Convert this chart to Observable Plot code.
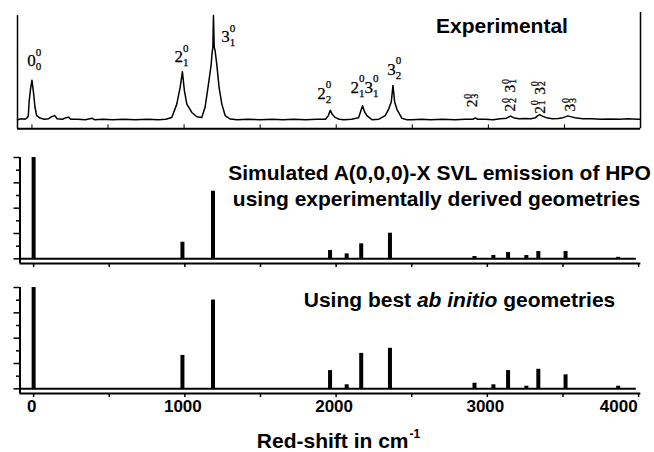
<!DOCTYPE html>
<html><head><meta charset="utf-8">
<script src="https://cdn.jsdelivr.net/npm/d3@7"></script>
<script src="https://cdn.jsdelivr.net/npm/@observablehq/plot@0.6"></script>
<style>html,body{margin:0;padding:0;background:#fff}#chart{width:654px;height:452px}#chart svg{display:block}</style>
</head><body><div id="chart"></div>
<script>
// ---------- data ----------
// Experimental spectrum trace (red-shift in cm-1, relative intensity)
const expShift = [-95,-70,-45,-30,-24,-18,-9,0,11,20,31,53,80,110,130,150,165,200,225,240,255,300,350,395,410,470,530,600,680,760,830,880,
  919,952,974,989,1002,1018,1051,1084,1116,1138,1160,1178,1185,1189,1193,1198,1204,1215,1230,1248,1270,1303,
  1350,1420,1500,1580,1650,1720,1800,1870,1930,1948,1961,1975,1995,2020,2050,2100,2147,2162,2173,2186,2202,2235,2280,
  2322,2344,2362,2373,2384,2399,2410,2432,2465,2500,2560,2620,2700,2780,2850,2900,2914,2930,2980,3030,3080,
  3120,3145,3165,3200,3240,3280,3310,3325,3337,3355,3380,3420,3460,3490,3510,3522,3540,3570,3620,3680,3740,3800,3860,3920,3980,4000];
const expIntensity = [0,0.01,0.005,0.02,0.04,0.18,0.30,0.38,0.25,0.12,0.04,0.016,0.005,0.01,0.03,0.04,0.01,0.005,0.02,0.025,0.005,0.005,0,0.015,0,0.005,0,0.005,0,0.005,0,0.005,
  0.022,0.15,0.31,0.46,0.28,0.15,0.07,0.029,0.022,0.12,0.34,0.53,0.66,0.69,1.0,0.70,0.66,0.53,0.31,0.15,0.04,0.007,
  0,0.005,0,0.005,0,0.005,0,0.005,0.005,0.04,0.09,0.05,0.02,0.005,0,0.005,0.02,0.087,0.135,0.077,0.04,0,0.005,
  0.04,0.10,0.17,0.33,0.17,0.10,0.07,0.013,0,0,0.005,0,0.005,0,0.005,0.005,0.018,0.005,0.005,0,0.01,
  0.015,0.035,0.02,0.01,0.012,0.01,0.02,0.04,0.05,0.035,0.02,0.01,0.012,0.02,0.03,0.037,0.03,0.02,0.01,0.01,0.005,0.008,0.005,0.01,0.005,0.005];

// Peak assignments on the experimental trace
const labelText = ["0^0_0","2^0_1","3^0_1","2^0_2","2^0_1 3^0_1","3^0_2","2^0_3","2^0_2 3^0_1","2^0_1 3^0_2","3^0_3"];
const labelShift = [-31, 937, 1244, 1875, 2093, 2335, 2928, 3178, 3369, 3572];
const labelLevel = [0.514, 0.552, 0.744, 0.20, 0.26, 0.43, 0.12, 0.079, 0.057, 0.079];
const labelVertical = [false,false,false,false,false,false,true,true,true,true];

// Simulated stick spectra
const simShift = [0, 984, 1186, 1960, 2070, 2166, 2356, 2915, 3040, 3137, 3258, 3337, 3517, 3865];
const expGeomIntensity = [1.0, 0.164, 0.667, 0.082, 0.049, 0.148, 0.253, 0.023, 0.033, 0.062, 0.033, 0.072, 0.072, 0.015];
const abInitioIntensity = [1.0, 0.33, 0.876, 0.18, 0.04, 0.35, 0.40, 0.055, 0.04, 0.18, 0.026, 0.193, 0.138, 0.026];

// Axes
const xTicks = [0, 500, 1000, 1500, 2000, 2500, 3000, 3500, 4000];
const xTickLabels = [0, 1000, 2000, 3000, 4000];
const yMajorTicks = [0, 0.25, 0.5, 0.75, 1.0];
const yMinorTicks = [0.125, 0.375, 0.625, 0.875];

// Texts
const titleTop = "Experimental";
const titleMid1 = "Simulated A(0,0,0)-X SVL emission of HPO";
const titleMid2 = "using experimentally derived geometries";
const titleBot = ["Using best", "ab initio", "geometries"];
const xLabel = "Red-shift in cm";
const xLabelSup = "-1";

// ---------- rendering ----------
const W = 654;
const SANS = "'Liberation Sans', Arial, Helvetica, sans-serif";
const SERIF = "'Liberation Serif', 'Times New Roman', serif";
const chart = document.getElementById("chart");

// ---- panel 1 : experimental ----
{
  const H = 135, mL = 17, mR = 14, mT = 12, mB = 6.7;
  const yMin = -0.087, yMax = 1.03;
  const ky = (H - mT - mB) / (yMax - yMin);
  const expData = expShift.map((x, i) => ({x, y: expIntensity[i]}));
  const parts = [];
  labelText.forEach((s, i) => {
    [...s.matchAll(/(\d)\^(\d)_(\d)/g)].forEach((g, k) => parts.push({
      x: labelShift[i], y: labelLevel[i], rot: labelVertical[i], k, main: g[1], sup: g[2], sub: g[3]
    }));
  });
  const NORM = {main: 17, script: 11, adv: 14, sAlong: 8.5, supUp: 10.5, subDown: 4};
  const ROT = {main: 15.5, script: 10, adv: 19, sAlong: 8.5, supUp: 6.5, subDown: 0.5};
  const labelMarks = [];
  for (const rot of [false, true]) {
    const P = rot ? ROT : NORM;
    const place = (a, u) => rot ? {dx: -u, dy: -a} : {dx: a, dy: -u};
    for (const k of [0, 1]) {
      const common = {filter: d => d.rot === rot && d.k === k, x: "x", y: "y", rotate: rot ? -90 : 0,
        textAnchor: "start", lineAnchor: "bottom", fontFamily: SERIF, fill: "black",
        stroke: "black", strokeWidth: 0.25};
      const a = k * P.adv;
      labelMarks.push(Plot.text(parts, {...common, text: "main", fontSize: P.main, ...place(a, 0)}));
      labelMarks.push(Plot.text(parts, {...common, text: "sup", fontSize: P.script, ...place(a + P.sAlong, P.supUp)}));
      labelMarks.push(Plot.text(parts, {...common, text: "sub", fontSize: P.script, ...place(a + P.sAlong, -P.subDown)}));
    }
  }
  const p = Plot.plot({
    width: W, height: H, marginLeft: mL, marginRight: mR, marginTop: mT, marginBottom: mB,
    x: {domain: [-95, 4000], axis: null},
    y: {domain: [yMin, yMax], axis: null},
    style: {background: "white", overflow: "visible"},
    marks: [
      Plot.ruleX([-95], {y1: yMin, y2: 1.0, stroke: "black", strokeWidth: 1.5}),
      Plot.ruleX([4000], {y1: yMin, y2: yMax, stroke: "black", strokeWidth: 1.5}),
      Plot.ruleY([yMin], {x1: -95, x2: 4000, stroke: "black", strokeWidth: 2}),
      Plot.ruleX(xTicks.slice(0, -1), {y1: yMin, y2: yMin + 4 / ky, stroke: "black", strokeWidth: 1}),
      Plot.line(expData, {x: "x", y: "y", stroke: "black", strokeWidth: 1.5}),
      ...labelMarks,
      Plot.text([titleTop], {frameAnchor: "top-left", dx: 484.5, dy: 20, text: d => d, textAnchor: "middle",
        lineAnchor: "bottom", fontFamily: SANS, fontWeight: "bold", fontSize: 21, fill: "black"})
    ]
  });
  chart.appendChild(p);
}

function simPanel(H, mT, mB, intens, extraMarks) {
  const mL = 19.5, mR = 15.9;
  const yMin = -0.046, yMax = 1.0;
  const ky = (H - mT - mB) / (yMax - yMin);
  const kx = (W - mL - mR) / (4000 + 90);
  const peaks = simShift.map((x, i) => ({x, h: intens[i]}));
  return Plot.plot({
    width: W, height: H, marginLeft: mL, marginRight: mR, marginTop: mT, marginBottom: mB,
    x: {domain: [-90, 4000], axis: null},
    y: {domain: [yMin, yMax], axis: null},
    style: {background: "white", overflow: "visible"},
    marks: [
      Plot.ruleY([0], {x1: -90, x2: 3985, stroke: "black", strokeWidth: 2}),
      Plot.ruleX(peaks, {x: "x", y1: 0, y2: "h", stroke: "black", strokeWidth: 4}),
      Plot.ruleY([yMin], {x1: -90, x2: 4015, stroke: "black", strokeWidth: 2}),
      Plot.ruleX([-90], {y1: yMin, y2: yMax, stroke: "black", strokeWidth: 2}),
      Plot.ruleY(yMajorTicks, {x1: -90 - 6 / kx, x2: -90, stroke: "black", strokeWidth: 1.5}),
      Plot.ruleY(yMinorTicks, {x1: -90 - 3.5 / kx, x2: -90, stroke: "black", strokeWidth: 1.5}),
      Plot.ruleX(xTicks, {y1: yMin, y2: yMin - 4 / ky, stroke: "black", strokeWidth: 1.5}),
      ...extraMarks(yMin, ky)
    ]
  });
}

// ---- panel 2 : experimental geometries ----
chart.appendChild(simPanel(135, 22, 7, expGeomIntensity, () => [
  Plot.text([titleMid1], {frameAnchor: "top-left", dx: 419.5, dy: 22, text: d => d, textAnchor: "middle",
    lineAnchor: "bottom", fontFamily: SANS, fontWeight: "bold", fontSize: 21, fill: "black"}),
  Plot.text([titleMid2], {frameAnchor: "top-left", dx: 416.5, dy: 48.5, text: d => d, textAnchor: "middle",
    lineAnchor: "bottom", fontFamily: SANS, fontWeight: "bold", fontSize: 21, fill: "black"})
]));

// ---- panel 3 : ab initio geometries ----
const ctx = document.createElement("canvas").getContext("2d");
function tw(s, font) { ctx.font = font; return ctx.measureText(s).width; }
const fB = `bold 21px ${SANS}`, fBI = `italic bold 21px ${SANS}`;
const wA = tw(titleBot[0] + " ", fB), wB = tw(titleBot[1] + " ", fBI), wC = tw(titleBot[2], fB);
const botStart = 439.5 - (wA + wB + wC) / 2;
const tOpt = {frameAnchor: "top-left", text: d => d, textAnchor: "start", lineAnchor: "bottom",
  fontFamily: SANS, fontWeight: "bold", fontSize: 21, fill: "black", dy: 19.7};
const tickOpt = {x: d => d, text: d => String(d), dy: 18.7, lineAnchor: "bottom",
  fontFamily: SANS, fontWeight: "bold", fontSize: 17, fill: "black"};

chart.appendChild(simPanel(182, 17, 59, abInitioIntensity, (yMin) => [
  Plot.text([titleBot[0]], {...tOpt, dx: botStart}),
  Plot.text([titleBot[1]], {...tOpt, dx: botStart + wA, fontStyle: "italic"}),
  Plot.text([titleBot[2]], {...tOpt, dx: botStart + wA + wB}),
  Plot.text(xTickLabels.slice(0, -1), {...tickOpt, y: yMin, textAnchor: "middle", dx: -2}),
  Plot.text(xTickLabels.slice(-1), {...tickOpt, y: yMin, textAnchor: "end", dx: -1}),
  Plot.text([xLabel], {frameAnchor: "bottom-left", dx: 388.5, dy: 54, text: d => d, textAnchor: "end",
    lineAnchor: "bottom", fontFamily: SANS, fontWeight: "bold", fontSize: 21, fill: "black"}),
  Plot.text([xLabelSup], {frameAnchor: "bottom-left", dx: 389.5, dy: 44, text: d => d, textAnchor: "start",
    lineAnchor: "bottom", fontFamily: SANS, fontWeight: "bold", fontSize: 12, fill: "black"})
]));
</script></body></html>
